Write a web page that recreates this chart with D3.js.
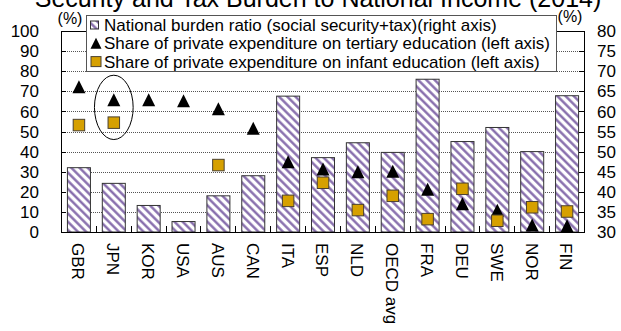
<!DOCTYPE html>
<html>
<head>
<meta charset="utf-8">
<script src="https://cdn.jsdelivr.net/npm/d3@7"></script>
<style>
  html, body { margin: 0; padding: 0; background: #fff; }
  svg { display: block; font-family: "Liberation Sans", Arial, sans-serif; }
</style>
</head>
<body>
<svg id="chart" width="621" height="331"></svg>
<script>
// ---- data ----
const title = "Security and Tax Burden to National Income (2014)";
const categories = ["GBR","JPN","KOR","USA","AUS","CAN","ITA","ESP","NLD","OECD avg","FRA","DEU","SWE","NOR","FIN"];
const burdenRatio = [46.0, 42.1, 36.6, 32.6, 39.0, 44.0, 63.8, 48.5, 52.2, 49.8, 68.0, 52.5, 56.0, 50.0, 63.9];
const tertiaryShare = [72.3, 65.8, 65.8, 65.3, 61.3, 51.6, 35.0, 31.3, 30.0, 30.2, 21.3, 14.1, 10.8, 3.5, 3.1];
const infantShare = [53.2, 54.4, null, null, 33.3, null, 15.5, 24.5, 10.9, 18.0, 6.4, 21.5, 5.6, 12.3, 10.2];
const leftTicks = [0,10,20,30,40,50,60,70,80,90,100];
const rightTicks = [30,35,40,45,50,55,60,65,70,75,80];
const legendLabels = [
  "National burden ratio (social security+tax)(right axis)",
  "Share of private expenditure on tertiary education (left axis)",
  "Share of private expenditure on infant education (left axis)"
];
const unitLabel = "(%)";
const highlightCategory = "JPN";
const highlightRange = [46, 78]; // left-axis extent of the ellipse

// ---- layout ----
const plot = {left: 61, right: 584, top: 31, bottom: 232};
const svg = d3.select("#chart");
const fontSize = 17;

const x = d3.scaleBand().domain(categories).range([plot.left, plot.right])
  .paddingInner(0.34).paddingOuter(0.17);
const yL = d3.scaleLinear().domain([0, 100]).range([plot.bottom, plot.top]);
const yR = d3.scaleLinear().domain([30, 80]).range([plot.bottom, plot.top]);
const step = x.step();

// hatch pattern
const defs = svg.append("defs");
const pat = defs.append("pattern").attr("id", "hatch")
  .attr("patternUnits", "userSpaceOnUse")
  .attr("width", 5.8).attr("height", 5.8)
  .attr("patternTransform", "rotate(-45)");
pat.append("rect").attr("width", 5.8).attr("height", 5.8).attr("fill", "#fff");
pat.append("line").attr("x1", 1.4).attr("x2", 1.4).attr("y1", 0).attr("y2", 5.8)
  .attr("stroke", "#8065a8").attr("stroke-width", 2.3);

// title (clipped at top)
svg.append("text").attr("x", 318).attr("y", 6.5).attr("text-anchor", "middle")
  .attr("font-size", 25).attr("fill", "#000").text(title);

// gridlines
svg.append("g").selectAll("line").data(leftTicks.filter(d => d > 0 && d < 100)).join("line")
  .attr("x1", plot.left).attr("x2", plot.right)
  .attr("y1", d => Math.round(yL(d)) + 0.5).attr("y2", d => Math.round(yL(d)) + 0.5)
  .attr("stroke", "#555").attr("stroke-width", 1).attr("stroke-dasharray", "1,1");

// bars
svg.append("g").selectAll("rect").data(categories).join("rect")
  .attr("x", d => x(d) + 0.5)
  .attr("y", (d, i) => yR(burdenRatio[i]))
  .attr("width", x.bandwidth())
  .attr("height", (d, i) => yR(30) - yR(burdenRatio[i]))
  .attr("fill", "url(#hatch)").attr("stroke", "#333").attr("stroke-width", 1);

// frame
svg.append("rect").attr("x", plot.left + 0.5).attr("y", plot.top + 0.5)
  .attr("width", plot.right - plot.left).attr("height", plot.bottom - plot.top)
  .attr("fill", "none").attr("stroke", "#000").attr("stroke-width", 1);

// axis ticks (inward)
svg.append("g").selectAll("line").data(leftTicks).join("line")
  .attr("x1", plot.left).attr("x2", plot.left + 5)
  .attr("y1", d => Math.round(yL(d)) + 0.5).attr("y2", d => Math.round(yL(d)) + 0.5)
  .attr("stroke", "#000");
svg.append("g").selectAll("line").data(rightTicks).join("line")
  .attr("x1", plot.right - 5).attr("x2", plot.right)
  .attr("y1", d => Math.round(yR(d)) + 0.5).attr("y2", d => Math.round(yR(d)) + 0.5)
  .attr("stroke", "#000");
svg.append("g").selectAll("line").data(categories.slice(1)).join("line")
  .attr("x1", d => Math.round(x(d) - step * 0.17) + 0.5)
  .attr("x2", d => Math.round(x(d) - step * 0.17) + 0.5)
  .attr("y1", plot.bottom).attr("y2", plot.bottom - 6)
  .attr("stroke", "#000");

// axis labels
svg.append("g").selectAll("text").data(leftTicks).join("text")
  .attr("x", 39).attr("y", d => yL(d)).attr("dy", "0.36em")
  .attr("text-anchor", "end").attr("font-size", fontSize).text(d => d);
svg.append("g").selectAll("text").data(rightTicks).join("text")
  .attr("x", 597).attr("y", d => yR(d)).attr("dy", "0.36em")
  .attr("text-anchor", "start").attr("font-size", fontSize).text(d => d);
svg.append("g").selectAll("text").data(categories).join("text")
  .attr("transform", d => `translate(${x(d) + x.bandwidth() / 2},243) rotate(90)`)
  .attr("dy", "0.36em").attr("font-size", fontSize).text(d => d);

svg.append("text").attr("x", 70).attr("y", 18.5).attr("dy", "0.36em")
  .attr("text-anchor", "middle").attr("font-size", 16).text(unitLabel);
svg.append("text").attr("x", 570).attr("y", 16.5).attr("dy", "0.36em")
  .attr("text-anchor", "middle").attr("font-size", 16).text(unitLabel);

// markers
const tri = "M0,-6.5L6.5,6.5L-6.5,6.5Z";
svg.append("g").selectAll("path").data(categories).join("path")
  .attr("transform", (d, i) => `translate(${x(d) + x.bandwidth() / 2 + 0.5},${yL(tertiaryShare[i])})`)
  .attr("d", tri).attr("fill", "#000");
const sq = 11.5;
svg.append("g").selectAll("rect")
  .data(categories.map((c, i) => ({c, v: infantShare[i]})).filter(d => d.v != null))
  .join("rect")
  .attr("x", d => x(d.c) + x.bandwidth() / 2 + 0.5 - sq / 2)
  .attr("y", d => yL(d.v) - sq / 2)
  .attr("width", sq).attr("height", sq)
  .attr("fill", "#d6a000").attr("stroke", "#4a4030").attr("stroke-width", 1);

// highlight ellipse
svg.append("ellipse")
  .attr("cx", x(highlightCategory) + x.bandwidth() / 2 + 0.5)
  .attr("cy", (yL(highlightRange[0]) + yL(highlightRange[1])) / 2)
  .attr("rx", step * 0.555)
  .attr("ry", (yL(highlightRange[0]) - yL(highlightRange[1])) / 2)
  .attr("fill", "none").attr("stroke", "#000").attr("stroke-width", 1);

// legend
const lg = svg.append("g");
lg.append("rect").attr("x", 86.5).attr("y", 15.5).attr("width", 470).attr("height", 56)
  .attr("fill", "#fff").attr("stroke", "#555").attr("stroke-width", 1);
const rowY = [25, 43.3, 61.6];
lg.append("rect").attr("x", 90.5).attr("y", rowY[0] - 4).attr("width", 8).attr("height", 8)
  .attr("fill", "url(#hatch)").attr("stroke", "#333");
lg.append("path").attr("transform", `translate(96,${rowY[1]})`)
  .attr("d", "M0,-5.5L5.5,5.5L-5.5,5.5Z").attr("fill", "#000");
lg.append("rect").attr("x", 91).attr("y", rowY[2] - 5).attr("width", 10).attr("height", 10)
  .attr("fill", "#d6a000").attr("stroke", "#4a4030");
lg.selectAll("text.lt").data(legendLabels).join("text").attr("class", "lt")
  .attr("x", 104).attr("y", (d, i) => rowY[i]).attr("dy", "0.36em")
  .attr("font-size", fontSize).text(d => d);
</script>
</body>
</html>
